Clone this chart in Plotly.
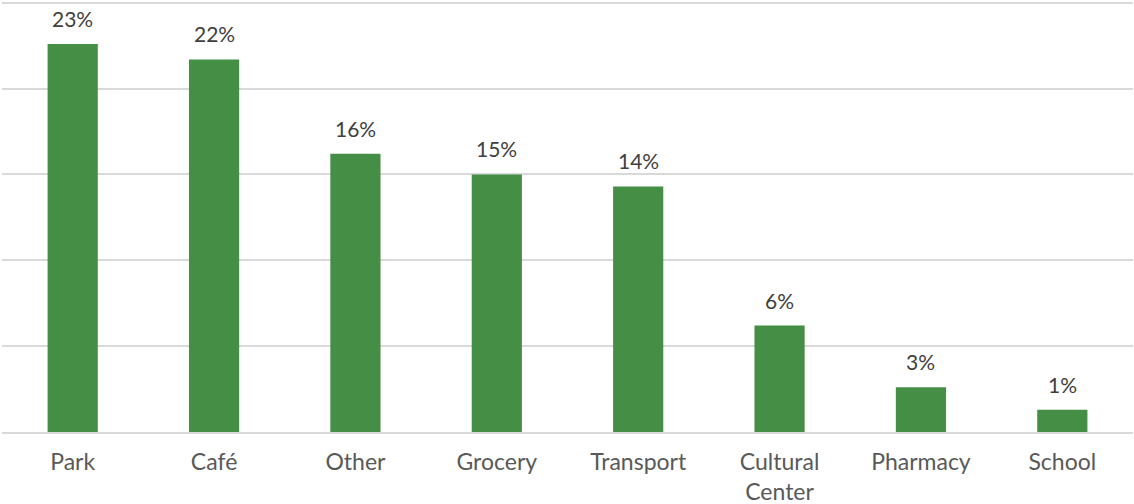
import plotly.graph_objects as go

categories = ["Park", "Café", "Other", "Grocery", "Transport", "Cultural<br>Center", "Pharmacy", "School"]
values = [22.6, 21.7, 16.2, 15.0, 14.3, 6.2, 2.6, 1.3]
labels = ["23%", "22%", "16%", "15%", "14%", "6%", "3%", "1%"]
y_ticks = [0, 5, 10, 15, 20, 25]

fig = go.Figure(go.Bar(
    x=categories, y=values,
    marker=dict(color="#448f45", line=dict(width=0)),
    width=0.355,
))

for c, v, t in zip(categories, values, labels):
    fig.add_annotation(
        x=c, y=v, text=t, showarrow=False, yanchor="bottom", yshift=11,
        font=dict(family="Lato, sans-serif", size=21, color="#404040"),
    )

fig.update_layout(
    width=1134, height=504,
    margin=dict(l=2, r=1, t=1, b=72),
    paper_bgcolor="white", plot_bgcolor="white",
    showlegend=False,
    font=dict(family="Lato, sans-serif"),
)
fig.update_xaxes(
    automargin=False,
    showgrid=False, showline=True, linecolor="#d9d9d9", linewidth=2,
    tickfont=dict(family="Lato, sans-serif", size=23, color="#595959"),
    ticks="", ticklabelstandoff=8,
)
fig.update_yaxes(
    automargin=False,
    range=[0, 25.1], tickvals=y_ticks, showticklabels=False,
    showgrid=True, gridcolor="#d9d9d9", gridwidth=2,
    zeroline=False, showline=False,
)

fig.write_html(
    "out.html",
    config={"displayModeBar": False},
    post_script="document.body.style.margin='0';document.body.style.overflow='hidden';",
)
